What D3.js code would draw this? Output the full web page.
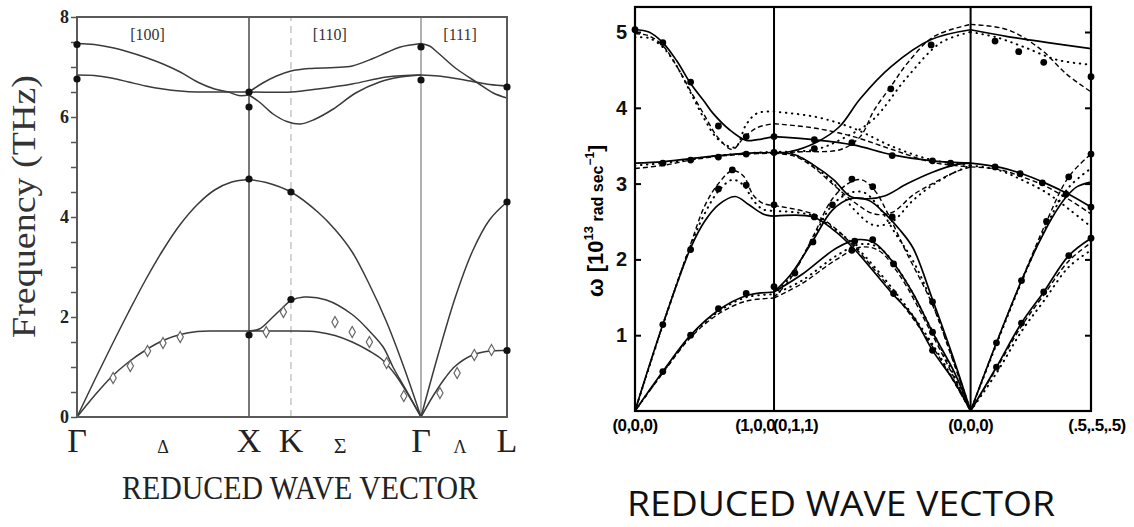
<!DOCTYPE html>
<html><head><meta charset="utf-8">
<script src="https://cdn.jsdelivr.net/npm/d3@7"></script>
<style>body{margin:0;background:#fff} svg{display:block}</style>
</head><body>
<svg id="chart" width="1134" height="527"></svg>
<script>
// ---------- left panel data (frequency, THz) : [k, value] ----------
const leftSymK = [0, 1, 1.244, 2, 2.5];
const leftSymNames = ['Γ', 'X', 'K', 'Γ', 'L'];
const leftDirK = [0.5, 1.53, 2.227];
const leftDirNames = ['Δ', 'Σ', 'Λ'];
const leftZoneK = [0.41, 1.47, 2.227];
const leftZoneNames = ['[100]', '[110]', '[111]'];
const leftTicks = [0, 2, 4, 6, 8];

const L_GX_top = [[0,7.47],[0.1,7.45],[0.2,7.39],[0.3,7.3],[0.4,7.19],[0.5,7.06],[0.6,6.9],[0.7,6.7],[0.8,6.56],[0.88,6.5],[0.94,6.43],[1,6.44]];
const L_GX_mid = [[0,6.84],[0.1,6.83],[0.2,6.78],[0.3,6.7],[0.4,6.62],[0.5,6.56],[0.6,6.52],[0.7,6.5],[0.85,6.5],[1,6.5]];
const L_S_up = [[1,6.5],[1.08,6.68],[1.16,6.82],[1.244,6.92],[1.35,6.97],[1.5,6.99],[1.6,7.02],[1.72,7.17],[1.8,7.29],[1.88,7.4],[2,7.47]];
const L_S_flat = [[1,6.5],[1.244,6.5],[1.4,6.56],[1.6,6.66],[1.8,6.8],[2,6.84]];
const L_S_dip = [[1,6.44],[1.06,6.3],[1.14,6.06],[1.22,5.91],[1.3,5.86],[1.38,5.95],[1.49,6.16],[1.62,6.48],[1.76,6.7],[1.88,6.8],[2,6.84]];
const L_GL_top = [[2,7.47],[2.05,7.42],[2.1,7.28],[2.2,6.98],[2.33,6.68],[2.42,6.48],[2.5,6.38]];
const L_GL_low = [[2,6.84],[2.1,6.82],[2.2,6.77],[2.3,6.71],[2.4,6.65],[2.5,6.62]];
const L_GX_LA = [[0,0],[0.1,0.72],[0.2,1.42],[0.3,2.1],[0.4,2.75],[0.5,3.34],[0.6,3.85],[0.7,4.25],[0.8,4.54],[0.9,4.7],[1,4.75]];
const L_S_LA = [[1,4.75],[1.1,4.69],[1.244,4.5],[1.4,4.1],[1.5,3.75],[1.6,3.3],[1.7,2.65],[1.8,1.9],[1.9,1.0],[2,0]];
const L_GL_LA = [[2,0],[2.1,1.25],[2.2,2.4],[2.3,3.32],[2.4,3.95],[2.5,4.3]];
const L_GX_TA = [[0,0],[0.1,0.42],[0.2,0.8],[0.3,1.1],[0.4,1.34],[0.5,1.53],[0.6,1.65],[0.7,1.71],[0.8,1.72],[1,1.72]];
const L_S_TA1 = [[1,1.72],[1.244,1.72],[1.4,1.7],[1.5,1.63],[1.6,1.5],[1.7,1.32],[1.77,1.16],[1.85,0.85],[1.93,0.42],[2,0]];
const L_S_TA2 = [[1,1.72],[1.06,1.76],[1.13,1.97],[1.2,2.2],[1.244,2.33],[1.32,2.4],[1.45,2.34],[1.6,2.05],[1.7,1.72],[1.78,1.4],[1.84,0.98],[1.92,0.5],[2,0]];
const L_GL_TA = [[2,0],[2.07,0.42],[2.14,0.78],[2.2,1.02],[2.3,1.24],[2.4,1.32],[2.5,1.33]];
const leftBranches = [L_GX_top, L_GX_mid, L_S_up, L_S_flat, L_S_dip, L_GL_top, L_GL_low,
  L_GX_LA, L_S_LA, L_GL_LA, L_GX_TA, L_S_TA1, L_S_TA2, L_GL_TA];

const leftDots = [[0,7.45],[0,6.76],[1,6.5],[1,6.2],[1,4.76],[1,1.64],[1.244,4.5],[1.244,2.35],
  [2,7.4],[2,6.74],[2.5,6.6],[2.5,4.3],[2.5,1.33]];
const leftDiamonds = [[0.21,0.78],[0.31,1.02],[0.41,1.32],[0.5,1.48],[0.6,1.6],[1.1,1.7],[1.2,2.1],
  [1.5,1.9],[1.6,1.7],[1.7,1.5],[1.8,1.08],[1.9,0.42],[2.11,0.48],[2.21,0.88],[2.31,1.24],[2.41,1.34]];

// ---------- right panel data (omega, 10^13 rad/s) ----------
const rightSymK = [0, 1, 2.414, 3.28];
const rightSymNames = ['(0,0,0)', '', '(0,0,0)', '(.5,.5,.5)'];
const rightTicks = [1, 2, 3, 4, 5];

// Gamma - X
const R_GX_LO = [[0,5.03],[0.1,5.0],[0.2,4.86],[0.3,4.62],[0.4,4.32],[0.5,4.08],[0.56,3.93],[0.68,3.71],[0.8,3.57],[0.88,3.58],[1,3.62]];
const R_GX_LO_d = [[0,4.98],[0.1,4.95],[0.2,4.82],[0.3,4.55],[0.4,4.22],[0.5,3.9],[0.6,3.6],[0.7,3.45],[0.78,3.6],[0.88,3.74],[1,3.79]];
const R_GX_LO_o = [[0,4.93],[0.1,4.92],[0.2,4.8],[0.3,4.55],[0.4,4.2],[0.5,3.85],[0.6,3.58],[0.72,3.48],[0.8,3.78],[0.88,3.93],[1,3.95]];
const R_GX_TO = [[0,3.27],[0.2,3.29],[0.4,3.33],[0.6,3.37],[0.8,3.4],[1,3.41]];
const R_GX_TO_d = [[0,3.2],[0.2,3.24],[0.4,3.31],[0.6,3.36],[0.8,3.39],[1,3.4]];
const R_GX_TO_o = [[0,3.24],[0.2,3.27],[0.4,3.32],[0.6,3.37],[0.8,3.4],[1,3.42]];
const R_GX_LA = [[0,0],[0.2,1.14],[0.4,2.15],[0.5,2.5],[0.6,2.72],[0.72,2.83],[0.82,2.72],[0.92,2.6],[1,2.57]];
const R_GX_LA_d = [[0,0],[0.2,1.14],[0.4,2.2],[0.5,2.7],[0.6,3.0],[0.7,3.17],[0.78,3.1],[0.85,2.85],[0.92,2.74],[1,2.71]];
const R_GX_LA_o = [[0,0],[0.2,1.13],[0.4,2.18],[0.5,2.6],[0.6,2.9],[0.7,3.05],[0.78,2.98],[0.85,2.78],[0.92,2.66],[1,2.64]];
const R_GX_TA = [[0,0],[0.2,0.52],[0.4,1.0],[0.6,1.33],[0.8,1.52],[1,1.57]];
const R_GX_TA_d = [[0,0],[0.2,0.5],[0.4,0.97],[0.6,1.28],[0.8,1.45],[1,1.49]];
const R_GX_TA_o = [[0,0],[0.2,0.51],[0.4,0.99],[0.6,1.31],[0.8,1.5],[1,1.54]];
// X - Gamma (Sigma)
const R_S_O1 = [[1,3.62],[1.28,3.58],[1.57,3.51],[1.85,3.38],[2.14,3.3],[2.414,3.27]];
const R_S_O1_d = [[1,3.79],[1.3,3.73],[1.57,3.62],[1.85,3.45],[2.14,3.28],[2.414,3.22]];
const R_S_O1_o = [[1,3.95],[1.3,3.88],[1.57,3.73],[1.85,3.49],[2.14,3.31],[2.414,3.24]];
const R_S_O2 = [[1,3.41],[1.11,3.42],[1.31,3.55],[1.47,3.75],[1.62,4.12],[1.84,4.54],[2.13,4.9],[2.414,5.03]];
const R_S_O2_d = [[1,3.4],[1.2,3.42],[1.48,3.45],[1.62,3.62],[1.72,3.97],[1.84,4.28],[1.96,4.59],[2.15,4.94],[2.414,5.1]];
const R_S_O2_o = [[1,3.42],[1.3,3.45],[1.5,3.6],[1.71,3.84],[1.96,4.41],[2.2,4.86],[2.414,5.0]];
const R_S_O3 = [[1,3.41],[1.15,3.38],[1.28,3.25],[1.43,3.05],[1.55,2.83],[1.68,2.8],[1.8,2.84],[1.96,3.0],[2.14,3.15],[2.31,3.25],[2.414,3.27]];
const R_S_O3_d = [[1,3.4],[1.15,3.36],[1.28,3.22],[1.43,2.98],[1.58,2.75],[1.72,2.6],[1.85,2.62],[2.0,2.85],[2.14,3.0],[2.3,3.15],[2.414,3.22]];
const R_S_O3_o = [[1,3.42],[1.15,3.38],[1.28,3.24],[1.43,3.0],[1.58,2.65],[1.72,2.45],[1.85,2.5],[2.0,2.78],[2.14,2.98],[2.3,3.15],[2.414,3.24]];
const R_S_LA = [[1,1.57],[1.12,1.8],[1.28,2.25],[1.42,2.65],[1.55,2.8],[1.68,2.78],[1.8,2.6],[1.9,2.4],[2.0,2.15],[2.14,1.47],[2.28,0.75],[2.414,0]];
const R_S_LA_d = [[1,1.5],[1.12,1.75],[1.28,2.3],[1.42,2.8],[1.55,3.02],[1.63,3.05],[1.72,2.92],[1.82,2.6],[1.95,2.1],[2.14,1.4],[2.28,0.7],[2.414,0]];
const R_S_LA_o = [[1,1.54],[1.12,1.78],[1.28,2.28],[1.42,2.72],[1.55,2.88],[1.65,2.88],[1.75,2.7],[1.87,2.35],[2.0,1.98],[2.14,1.42],[2.28,0.72],[2.414,0]];
const R_S_A = [[1,2.57],[1.28,2.56],[1.42,2.4],[1.57,2.15],[1.85,1.55],[2.0,1.25],[2.14,0.8],[2.3,0.38],[2.414,0]];
const R_S_A_d = [[1,2.71],[1.28,2.6],[1.42,2.44],[1.57,2.18],[1.85,1.58],[2.14,0.85],[2.414,0]];
const R_S_A_o = [[1,2.64],[1.28,2.58],[1.42,2.42],[1.57,2.2],[1.85,1.62],[2.14,0.88],[2.414,0]];
const R_S_B = [[1,1.57],[1.2,1.8],[1.45,2.15],[1.6,2.26],[1.72,2.22],[1.86,1.95],[2.0,1.55],[2.14,1.04],[2.3,0.5],[2.414,0]];
const R_S_B_d = [[1,1.49],[1.2,1.68],[1.45,2.0],[1.62,2.16],[1.75,2.12],[1.9,1.8],[2.14,1.0],[2.414,0]];
const R_S_B_o = [[1,1.54],[1.2,1.72],[1.45,2.05],[1.62,2.2],[1.75,2.16],[1.9,1.85],[2.14,1.05],[2.414,0]];
// Gamma - L
const R_L_LO = [[2.414,5.03],[2.68,4.94],[2.97,4.86],[3.28,4.78]];
const R_L_LO_d = [[2.414,5.1],[2.68,5.03],[2.92,4.77],[3.1,4.45],[3.28,4.21]];
const R_L_LO_o = [[2.414,5.0],[2.6,4.93],[2.8,4.8],[3.04,4.63],[3.28,4.57]];
const R_L_TO = [[2.414,3.27],[2.61,3.22],[2.77,3.14],[2.96,3.0],[3.13,2.85],[3.28,2.69]];
const R_L_TO_d = [[2.414,3.22],[2.61,3.19],[2.77,3.1],[2.96,2.96],[3.13,2.78],[3.28,2.6]];
const R_L_TO_o = [[2.414,3.24],[2.61,3.18],[2.77,3.06],[2.96,2.88],[3.13,2.65],[3.28,2.43]];
const R_L_LA = [[2.414,0],[2.6,0.9],[2.78,1.72],[2.9,2.2],[3.0,2.55],[3.1,2.82],[3.18,2.96],[3.28,3.02]];
const R_L_LA_d = [[2.414,0],[2.6,0.9],[2.78,1.72],[2.96,2.5],[3.12,3.09],[3.28,3.39]];
const R_L_LA_o = [[2.414,0],[2.6,0.88],[2.78,1.7],[2.96,2.45],[3.12,2.95],[3.28,3.2]];
const R_L_TA = [[2.414,0],[2.6,0.58],[2.78,1.16],[2.94,1.57],[3.12,2.05],[3.28,2.28]];
const R_L_TA_d = [[2.414,0],[2.6,0.56],[2.78,1.12],[2.94,1.53],[3.12,1.98],[3.28,2.22]];
const R_L_TA_o = [[2.414,0],[2.6,0.5],[2.78,1.05],[2.94,1.45],[3.12,1.9],[3.28,2.12]];

const rightSolid = [R_GX_LO, R_GX_TO, R_GX_LA, R_GX_TA, R_S_O1, R_S_O2, R_S_O3, R_S_LA, R_S_A, R_S_B, R_L_LO, R_L_TO, R_L_LA, R_L_TA];
const rightDashed = [R_GX_LO_d, R_GX_TO_d, R_GX_LA_d, R_GX_TA_d, R_S_O1_d, R_S_O2_d, R_S_O3_d, R_S_LA_d, R_S_A_d, R_S_B_d, R_L_LO_d, R_L_TO_d, R_L_LA_d, R_L_TA_d];
const rightDotted = [R_GX_LO_o, R_GX_TO_o, R_GX_LA_o, R_GX_TA_o, R_S_O1_o, R_S_O2_o, R_S_O3_o, R_S_LA_o, R_S_A_o, R_S_B_o, R_L_LO_o, R_L_TO_o, R_L_LA_o, R_L_TA_o];

const rightDots = [[0,5.03],[0.2,4.86],[0.4,4.34],[0.6,3.76],[0.8,3.62],[1,3.62],
  [0.2,3.27],[0.4,3.31],[0.6,3.35],[0.8,3.39],[1,3.41],
  [0.2,1.14],[0.4,2.13],[0.6,2.93],[0.7,3.18],[0.8,2.98],[1,2.72],
  [0.2,0.52],[0.4,1.0],[0.6,1.35],[0.8,1.55],[1,1.64],
  [1.29,3.58],[1.29,3.46],[1.56,3.54],[1.85,3.37],[2.14,3.3],[2.27,3.27],
  [1.56,3.06],[1.71,2.96],[1.42,2.72],[1.85,2.56],[1.29,2.56],[1.28,2.23],[1.15,1.82],
  [1.58,2.24],[1.71,2.26],[1.86,1.94],[1.56,2.12],[1.86,1.55],[2.14,1.44],[2.14,1.04],[2.14,0.8],
  [1.84,4.25],[2.13,4.83],
  [2.59,4.88],[2.76,4.74],[2.94,4.6],[3.28,4.41],
  [2.59,3.22],[2.77,3.13],[2.93,3.01],[3.1,2.86],[3.28,2.69],
  [2.6,0.9],[2.78,1.72],[2.96,2.5],[3.12,3.09],[3.28,3.39],
  [2.6,0.58],[2.78,1.16],[2.94,1.57],[3.12,2.05],[3.28,2.28]];

// ---------- drawing ----------
const svg = d3.select('#chart');
const curve = d3.curveCatmullRom.alpha(0.5);

// left panel
const xL = d3.scaleLinear().domain([0, 2.5]).range([77, 507]);
const yL = d3.scaleLinear().domain([0, 8]).range([417, 17]);
const gL = svg.append('g');
const lineL = d3.line().x(d => xL(d[0])).y(d => yL(d[1])).curve(curve);

// symmetry verticals
gL.append('line').attr('x1', xL(1)).attr('x2', xL(1)).attr('y1', yL(0)).attr('y2', yL(8))
  .attr('stroke', '#555').attr('stroke-width', 1.6);
gL.append('line').attr('x1', xL(1.244)).attr('x2', xL(1.244)).attr('y1', yL(0)).attr('y2', yL(8))
  .attr('stroke', '#aaa').attr('stroke-width', 1).attr('stroke-dasharray', '7,5');
gL.append('line').attr('x1', xL(2)).attr('x2', xL(2)).attr('y1', yL(0)).attr('y2', yL(8))
  .attr('stroke', '#888').attr('stroke-width', 1.3);

gL.selectAll('path.br').data(leftBranches).join('path')
  .attr('class', 'br').attr('d', lineL).attr('fill', 'none')
  .attr('stroke', '#3a3a3a').attr('stroke-width', 1.5);

// frame
gL.append('rect').attr('x', xL(0)).attr('y', yL(8)).attr('width', xL(2.5) - xL(0)).attr('height', yL(0) - yL(8))
  .attr('fill', 'none').attr('stroke', '#5a5a5a').attr('stroke-width', 2);

// y axis ticks
gL.append('g').attr('transform', `translate(${xL(0)},0)`)
  .call(d3.axisLeft(yL).tickValues(d3.range(0, 8.01, 0.5)).tickSize(6).tickFormat(''))
  .call(g => g.select('.domain').remove())
  .call(g => g.selectAll('line').attr('stroke', '#555').attr('stroke-width', 1.5));
gL.selectAll('text.yt').data(leftTicks).join('text').attr('class', 'yt')
  .attr('x', xL(0) - 8).attr('y', d => yL(d) + 6).attr('text-anchor', 'end')
  .attr('font-family', 'Liberation Serif').attr('font-weight', 'bold').attr('font-size', 18)
  .attr('fill', '#222').text(d => d);

gL.selectAll('path.dm').data(leftDiamonds).join('path').attr('class', 'dm')
  .attr('transform', d => `translate(${xL(d[0])},${yL(d[1])})`)
  .attr('d', d3.symbol(d3.symbolDiamond, 34))
  .attr('fill', '#fff').attr('stroke', '#666').attr('stroke-width', 1.2);
gL.selectAll('circle.dt').data(leftDots).join('circle').attr('class', 'dt')
  .attr('cx', d => xL(d[0])).attr('cy', d => yL(d[1])).attr('r', 3.6).attr('fill', '#111');

gL.selectAll('text.zn').data(leftZoneNames).join('text').attr('class', 'zn')
  .attr('x', (d, i) => xL(leftZoneK[i])).attr('y', 40).attr('text-anchor', 'middle')
  .attr('font-family', 'Liberation Serif').attr('font-size', 16).attr('fill', '#333').text(d => d);

gL.selectAll('text.sym').data(leftSymNames).join('text').attr('class', 'sym')
  .attr('x', (d, i) => xL(leftSymK[i])).attr('y', 452).attr('text-anchor', 'middle')
  .attr('font-family', 'Liberation Serif').attr('font-size', 34).attr('fill', '#222').text(d => d);
gL.selectAll('text.dir').data(leftDirNames).join('text').attr('class', 'dir')
  .attr('x', (d, i) => xL(leftDirK[i])).attr('y', 453).attr('text-anchor', 'middle')
  .attr('font-family', 'Liberation Serif').attr('font-size', (d, i) => i === 1 ? 22 : 18)
  .attr('fill', '#222').text(d => d);

gL.append('text').attr('x', 122).attr('y', 499).attr('textLength', 356).attr('lengthAdjust', 'spacingAndGlyphs')
  .attr('font-family', 'Liberation Serif').attr('font-size', 33).attr('fill', '#222').text('REDUCED WAVE VECTOR');
gL.append('text').attr('transform', 'translate(35,338) rotate(-90)')
  .attr('textLength', 263).attr('lengthAdjust', 'spacingAndGlyphs')
  .attr('font-family', 'Liberation Serif').attr('font-size', 33).attr('fill', '#333').text('Frequency (THz)');

// right panel
const xR = d3.scaleLinear().domain([0, 3.28]).range([635, 1091]);
const yR = d3.scaleLinear().domain([0, 5]).range([411, 32]);
const gR = svg.append('g');
const lineR = d3.line().x(d => xR(d[0])).y(d => yR(d[1])).curve(curve);

gR.selectAll('path.so').data(rightSolid).join('path').attr('class', 'so')
  .attr('d', lineR).attr('fill', 'none').attr('stroke', '#000').attr('stroke-width', 1.7);
gR.selectAll('path.da').data(rightDashed).join('path').attr('class', 'da')
  .attr('d', lineR).attr('fill', 'none').attr('stroke', '#000').attr('stroke-width', 1.4)
  .attr('stroke-dasharray', '5,3');
gR.selectAll('path.do').data(rightDotted).join('path').attr('class', 'do')
  .attr('d', lineR).attr('fill', 'none').attr('stroke', '#000').attr('stroke-width', 2)
  .attr('stroke-linecap', 'round').attr('stroke-dasharray', '0.5,5.5');
gR.selectAll('circle.dt').data(rightDots).join('circle').attr('class', 'dt')
  .attr('cx', d => xR(d[0])).attr('cy', d => yR(d[1])).attr('r', 3.4).attr('fill', '#000');

// verticals and frame
[1, 2.414].forEach(k => {
  gR.append('line').attr('x1', xR(k)).attr('x2', xR(k)).attr('y1', yR(0)).attr('y2', yR(5.33))
    .attr('stroke', '#000').attr('stroke-width', 2);
});
gR.append('rect').attr('x', xR(0)).attr('y', yR(5.33)).attr('width', xR(3.28) - xR(0)).attr('height', yR(0) - yR(5.33))
  .attr('fill', 'none').attr('stroke', '#000').attr('stroke-width', 2.2);
gR.append('g').attr('transform', `translate(${xR(0)},0)`)
  .call(d3.axisRight(yR).tickValues(rightTicks).tickSize(6).tickFormat(''))
  .call(g => g.select('.domain').remove())
  .call(g => g.selectAll('line').attr('stroke', '#000').attr('stroke-width', 2));
gR.append('g').attr('transform', `translate(${xR(3.28)},0)`)
  .call(d3.axisLeft(yR).tickValues(rightTicks).tickSize(6).tickFormat(''))
  .call(g => g.select('.domain').remove())
  .call(g => g.selectAll('line').attr('stroke', '#000').attr('stroke-width', 2));
gR.selectAll('text.yt').data(rightTicks).join('text').attr('class', 'yt')
  .attr('x', xR(0) - 8).attr('y', d => yR(d) + 7).attr('text-anchor', 'end')
  .attr('font-family', 'Liberation Sans').attr('font-weight', 'bold').attr('font-size', 20)
  .attr('fill', '#111').text(d => d);

gR.selectAll('text.sym').data(rightSymNames).join('text').attr('class', 'sym')
  .attr('x', (d, i) => xR(rightSymK[i]) + (i === 3 ? 6 : 0)).attr('y', 431).attr('text-anchor', 'middle')
  .attr('font-family', 'Liberation Sans').attr('font-weight', 'bold').attr('font-size', 17)
  .attr('letter-spacing', -0.6).attr('fill', '#000').text(d => d);
gR.append('text').attr('x', xR(1) + 1).attr('y', 431).attr('text-anchor', 'end')
  .attr('font-family', 'Liberation Sans').attr('font-weight', 'bold').attr('font-size', 17)
  .attr('letter-spacing', -0.6).text('(1,0,0');
gR.append('text').attr('x', xR(1) - 1).attr('y', 431).attr('text-anchor', 'start')
  .attr('font-family', 'Liberation Sans').attr('font-weight', 'bold').attr('font-size', 17)
  .attr('letter-spacing', -0.6).text('(0,1,1)');

const yl = gR.append('text').attr('transform', 'translate(603,297) rotate(-90)')
  .attr('font-family', 'Liberation Sans').attr('font-weight', 'bold').attr('fill', '#000');
yl.append('tspan').attr('font-size', 22).text('ω [10');
yl.append('tspan').attr('font-size', 13).attr('dy', -10).text('13');
yl.append('tspan').attr('font-size', 16).attr('dy', 10).text(' rad sec');
yl.append('tspan').attr('font-size', 12).attr('dy', -9).text('−1');
yl.append('tspan').attr('font-size', 21).attr('dy', 9).text(']');

gR.append('text').attr('x', 627).attr('y', 516).attr('textLength', 428).attr('lengthAdjust', 'spacingAndGlyphs')
  .attr('font-family', 'Open Sans').attr('font-size', 35).attr('fill', '#111').text('REDUCED WAVE VECTOR');
</script></body></html>
